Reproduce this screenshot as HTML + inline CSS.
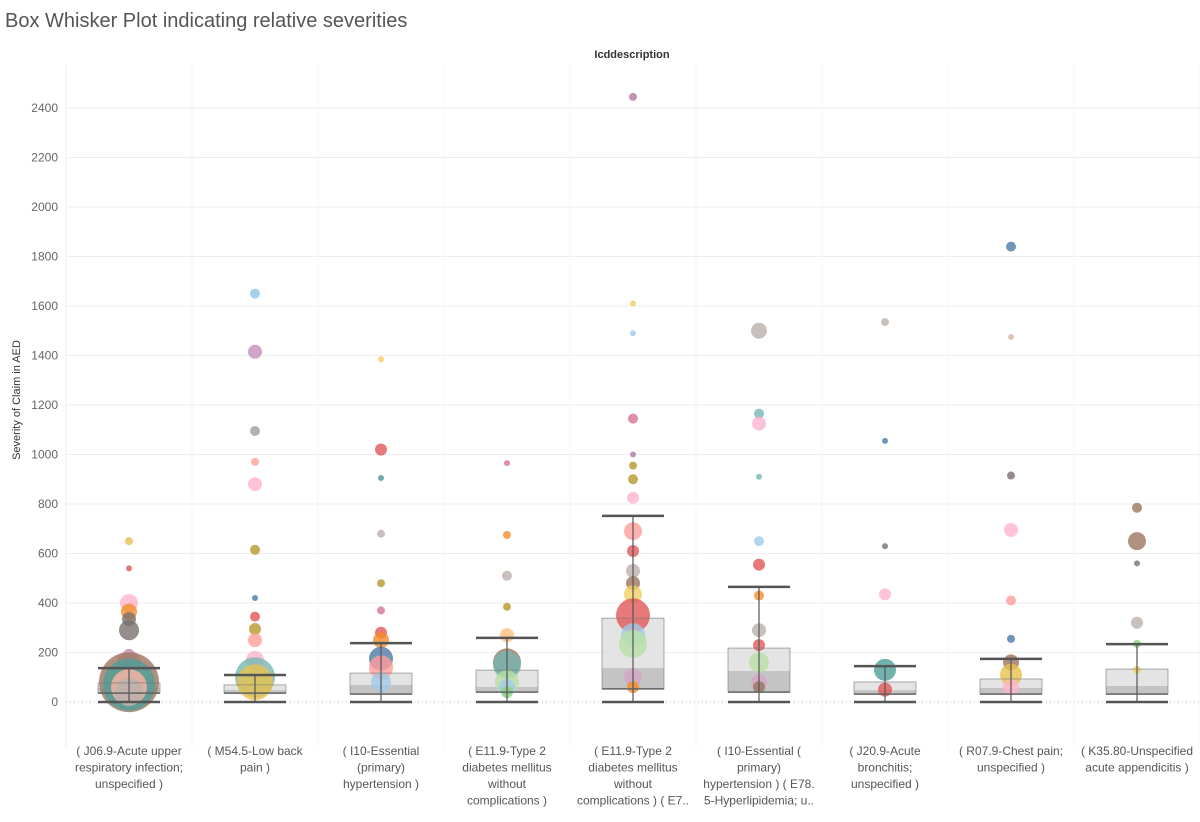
<!DOCTYPE html>
<html><head><meta charset="utf-8"><style>
body{margin:0;background:#fff;font-family:"Liberation Sans",sans-serif;}
#wrap{position:relative;width:1200px;height:822px;overflow:hidden}
</style></head><body>
<div id="wrap">
<svg id="chart" width="1200" height="822"></svg>
</div>
<script>
const categories=["( J06.9-Acute upper|respiratory infection;|unspecified )","( M54.5-Low back|pain )","( I10-Essential|(primary)|hypertension )","( E11.9-Type 2|diabetes mellitus|without|complications )","( E11.9-Type 2|diabetes mellitus|without|complications ) ( E7..","( I10-Essential (|primary)|hypertension ) ( E78.|5-Hyperlipidemia; u..","( J20.9-Acute|bronchitis;|unspecified )","( R07.9-Chest pain;|unspecified )","( K35.80-Unspecified|acute appendicitis )"];
const whiskerHigh=[137,109,238,259,752,465,145,174,234];
const q3=[77,69,117,129,339,218,81,93,133];
const medians=[57,48,69,61,137,125,48,57,65];
const q1=[36,36,32,40,53,40,32,32,32];
const yTicks=[0,200,400,600,800,1000,1200,1400,1600,1800,2000,2200,2400];
const pointCat=[0,0,0,0,0,0,0,0,0,0,0,0,1,1,1,1,1,1,1,1,1,1,1,1,1,2,2,2,2,2,2,2,2,2,2,2,3,3,3,3,3,3,3,3,3,3,4,4,4,4,4,4,4,4,4,4,4,4,4,4,4,4,4,4,5,5,5,5,5,5,5,5,5,5,5,5,6,6,6,6,6,6,7,7,7,7,7,7,7,7,7,8,8,8,8,8,8];
const pointVal=[650,540,400,365,335,290,190,160,80,70,60,40,1650,1415,1095,970,880,615,420,345,295,250,170,100,80,1385,1020,905,680,480,370,280,250,175,140,80,965,675,510,385,270,160,150,80,60,40,2445,1610,1490,1145,1000,955,900,825,690,610,530,480,435,350,270,235,100,60,1500,1165,1125,910,650,555,430,290,230,160,80,60,1535,1055,630,435,130,50,1840,1475,915,695,410,255,160,110,60,785,650,560,320,235,130];
const pointR=[4,3,9,8,7,10,6,12,30,26,18,14,5,7,5,4,7,5,3,5,6,7,9,20,18,3,6,3,4,4,4,6,8,12,12,10,3,4,5,4,7,14,14,12,8,6,4,3,3,5,3,4,5,6,9,6,7,7,9,17,12,14,9,6,8,5,7,3,5,6,5,7,6,10,8,6,4,3,3,6,11,7,5,3,4,7,5,4,8,11,8,5,9,3,6,4,4];
const pointCol=["#e8c14f","#e15759","#ffb4c8","#f28e2b","#79706e","#79706e","#b07aa1","#d4a6c8","#9c755f","#4e9f9b","#ffb4a4","#bab0ac","#8fc4e8","#c48fb8","#a09e9e","#ff9d9a","#ffb4d0","#b6992d","#4e79a7","#e15759","#b6992d","#ff9d9a","#ffb4d0","#76b7b2","#e8c14f","#f1ce63","#e15759","#499894","#bab0ac","#b6992d","#d37295","#e15759","#f28e2b","#4e79a7","#ff9d9a","#a0cbe8","#d37295","#f28e2b","#bab0ac","#b6992d","#ffbe7d","#9c755f","#76b7b2","#b9e0a5","#a0cbe8","#8cd17d","#b07aa1","#f1ce63","#a0cbe8","#d37295","#b07aa1","#b6992d","#b6992d","#ffb4d0","#ff9d9a","#e15759","#bab0ac","#9c755f","#f1ce63","#e15759","#a0cbe8","#b9e0a5","#d4a6c8","#f28e2b","#bab0ac","#76b7b2","#ffb4d0","#76b7b2","#a0cbe8","#e15759","#f28e2b","#bab0ac","#e15759","#b9e0a5","#d4a6c8","#9c755f","#bab0ac","#4e79a7","#79706e","#ffb4d0","#4e9f9b","#e15759","#4e79a7","#d7b5a6","#79706e","#ffb4d0","#ff9d9a","#4e79a7","#9c755f","#e8c14f","#ffb4c8","#9c755f","#9c755f","#79706e","#bab0ac","#8cd17d","#f1ce63"];

const svg=document.getElementById('chart');const NS='http://www.w3.org/2000/svg';
const x0=66,colW=126,plotTop=65,plotBottom=740;
const y=v=>702-v*0.2475;
const cx=i=>x0+colW*i+colW/2;
function mk(t,a,p){const e=document.createElementNS(NS,t);for(const k in a)e.setAttribute(k,a[k]);(p||svg).appendChild(e);return e;}
let t=mk('text',{x:5,y:27,'font-size':20,fill:'#555'});t.textContent='Box Whisker Plot indicating relative severities';


t=mk('text',{x:632,y:58,'font-size':11,'font-weight':'bold','text-anchor':'middle',fill:'#333'});t.textContent='Icddescription';


t=mk('text',{x:20,y:400,'font-size':11,'text-anchor':'middle',fill:'#333',transform:'rotate(-90 20 400)'});t.textContent='Severity of Claim in AED';


yTicks.forEach(v=>{const l=mk('line',{x1:x0,x2:1200,y1:y(v),y2:y(v),stroke:v===0?'#bbb':'#eee','stroke-dasharray':v===0?'1,3':'none'});


const tt=mk('text',{x:58,y:y(v)+4,'font-size':12,'text-anchor':'end',fill:'#666'});tt.textContent=v;

});
for(let i=0;i<=categories.length;i++){const l=mk('line',{x1:x0+colW*i,x2:x0+colW*i,y1:plotTop,y2:plotBottom+8,stroke:i===0?'#eee':'#f6f6f6'});

}
categories.forEach((c,i)=>{
 const g=mk('g',{});
 
 
 const w=62,l=cx(i)-w/2;
 let r=mk('rect',{x:l,y:y(q3[i]),width:w,height:y(medians[i])-y(q3[i]),fill:'#ddd','fill-opacity':0.8},g);
 
 
 r=mk('rect',{x:l,y:y(medians[i]),width:w,height:y(q1[i])-y(medians[i]),fill:'#b5b5b5','fill-opacity':0.8},g);
 
 
 const parts=c.split('|');
 parts.forEach((p,k)=>{const tx=mk('text',{x:cx(i),y:755+k*16.5,'font-size':12,'text-anchor':'middle',fill:'#555'},g);tx.textContent=p;
 
 });
});
for(let j=0;j<pointCat.length;j++){if(pointVal[j]===undefined)continue;const c=mk('circle',{cx:cx(pointCat[j]),cy:y(pointVal[j]),r:pointR[j]||4,fill:pointCol[j]||'#999','fill-opacity':0.8});

}
categories.forEach((c,i)=>{
 const w=62,l=cx(i)-w/2;
 const v=mk('line',{x1:cx(i),x2:cx(i),y1:y(whiskerHigh[i]),y2:y(0),stroke:'#555','stroke-width':1.2});
 
 
 [whiskerHigh[i],q1[i],0].forEach((val,k)=>{const h=mk('line',{x1:l,x2:l+w,y1:y(val),y2:y(val),stroke:'#555','stroke-width':k===1?1.5:2.5});
 
 });
 const b=mk('rect',{x:l,y:y(q3[i]),width:w,height:y(q1[i])-y(q3[i]),fill:'none',stroke:'#777','stroke-width':0.6});
 
 
});
</script>
</body></html>
